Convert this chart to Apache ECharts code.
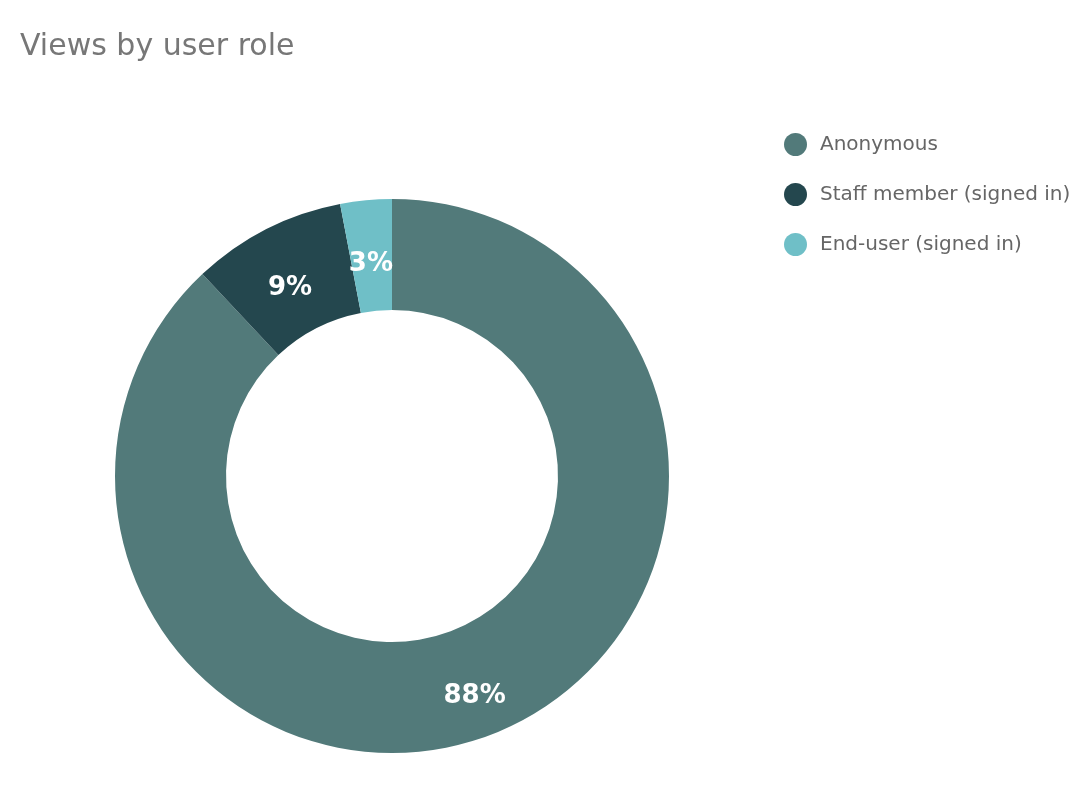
<!DOCTYPE html>
<html><head><meta charset="utf-8">
<script src="https://cdn.jsdelivr.net/npm/echarts@6/dist/echarts.min.js"></script>
<style>html,body{margin:0;padding:0;background:#fff}#c{width:1083px;height:795px}</style>
</head><body><div id="c"></div>
<script>
const categories = ["Anonymous", "Staff member (signed in)", "End-user (signed in)"];
const values = [88, 9, 3];
const colors = ["#527a7a", "#24474e", "#6fbfc7"];
const titleText = "Views by user role";

const chart = echarts.init(document.getElementById('c'));
chart.setOption({
  animation: false,
  title: {
    text: titleText, left: 15, top: 27,
    textStyle: { fontFamily: 'DejaVu Sans', fontSize: 30, fontWeight: 'normal', color: '#777' }
  },
  legend: {
    orient: 'vertical', left: 779, top: 128,
    icon: 'circle', itemWidth: 23, itemHeight: 23, itemGap: 27,
    textStyle: { fontFamily: 'DejaVu Sans', fontSize: 20, color: '#666', padding: [0, 0, 0, 8] },
    data: categories
  },
  series: [{
    type: 'pie',
    center: [392, 476],
    radius: [166, 277],
    startAngle: 90,
    clockwise: true,
    avoidLabelOverlap: false,
    label: {
      show: true, position: 'inside', formatter: '{d}%', offset: [0, 12],
      fontFamily: 'DejaVu Sans', fontSize: 26, fontWeight: 'bold', color: '#fff'
    },
    labelLine: { show: false },
    emphasis: { disabled: true },
    data: categories.map((n, i) => ({ name: n, value: values[i], itemStyle: { color: colors[i] } }))
  }]
});
</script></body></html>
